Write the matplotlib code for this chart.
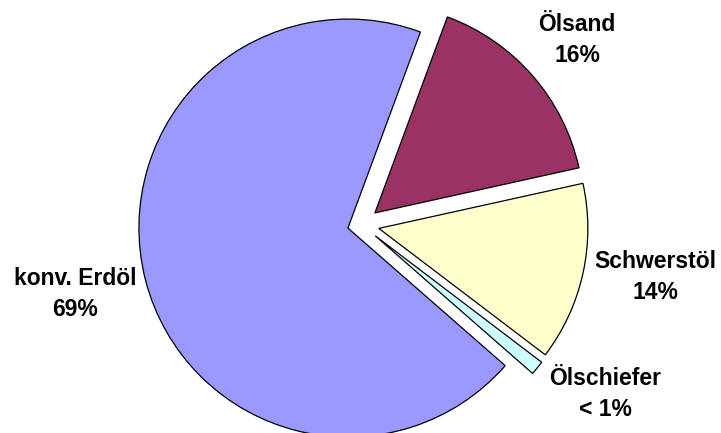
import matplotlib
matplotlib.use("Agg")
import matplotlib.pyplot as plt

labels = ["Ölsand", "Schwerstöl", "Ölschiefer", "konv. Erdöl"]
pct_labels = ["16%", "14%", "< 1%", "69%"]
values = [15.9, 13.8, 1.1, 69.2]
colors = ["#993366", "#FFFFCC", "#CCFFFF", "#9999FF"]
explode = [0.085, 0.085, 0.085, 0.067]

W, H = 721, 433
fig = plt.figure(figsize=(W / 100, H / 100), dpi=100)
ax = fig.add_axes([0, 0, 1, 1])
ax.axis("off")

R = 209.0
cx, cy = 361.5, 224.6
ax.pie(values, colors=colors, explode=explode, startangle=69.7,
       counterclock=False, radius=1.0,
       wedgeprops=dict(edgecolor="black", linewidth=0.9))
ax.set_xlim(-cx / R, (W - cx) / R)
ax.set_ylim(-(H - cy) / R, cy / R)
ax.set_aspect("auto")

label_pos = [(577, 40), (655, 277), (605, 394), (75, 294)]
for lab, p, (x, y) in zip(labels, pct_labels, label_pos):
    fig.text(x / W, 1 - y / H, f"{lab}\n{p}", ha="center", va="center",
             fontsize=16.5, fontweight="bold", family=["Liberation Sans", "DejaVu Sans"],
             linespacing=1.45)

fig.savefig("out.png", dpi=100)
